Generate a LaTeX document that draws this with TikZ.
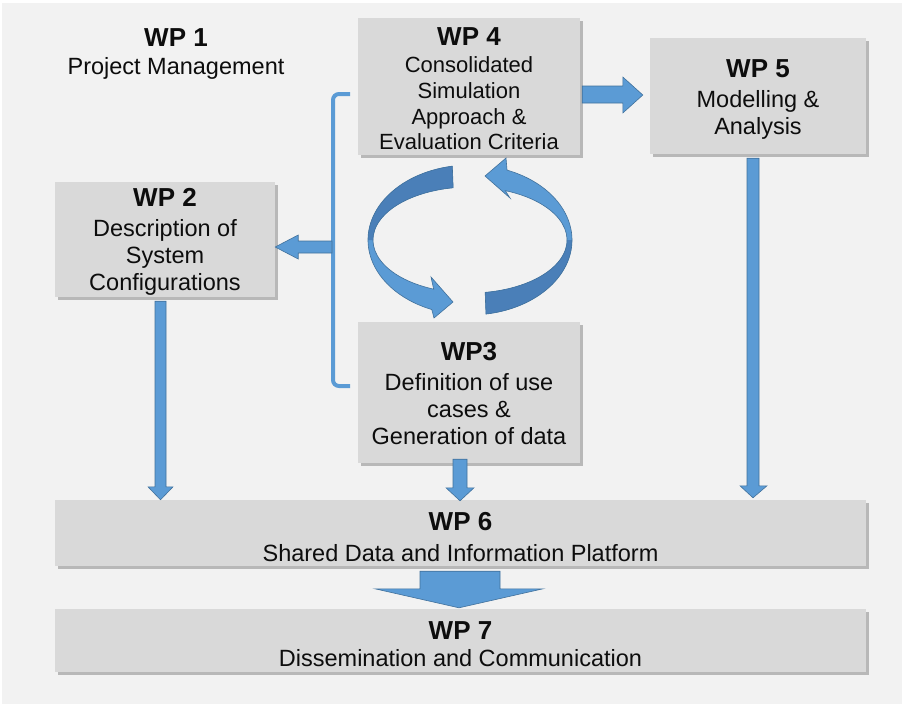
\documentclass[tikz,border=0pt]{standalone}
\usepackage{fontspec}
\setmainfont{Liberation Sans}
\usetikzlibrary{calc,shadows}
\definecolor{bggray}{HTML}{F2F2F2}
\definecolor{boxgray}{HTML}{D9D9D9}
\definecolor{arrowblue}{HTML}{5B9BD5}
\definecolor{arrowedge}{HTML}{41719C}
\definecolor{ribbondark}{HTML}{4A7FB8}
\definecolor{txt}{HTML}{0D0D0D}
\newcommand\wptitle[2]{\rule{0pt}{#1pt}{\fontsize{26}{30}\selectfont\bfseries #2}}
\begin{document}
\begin{tikzpicture}[x=1pt,y=1pt,
  wpbox/.style={fill=boxgray, inner sep=0pt, align=center, text=txt,
    font=\fontsize{23.5}{27}\selectfont,
    drop shadow={shadow xshift=3pt, shadow yshift=-3pt, opacity=0.35, fill=black!70}},
  blockarrow/.style={fill=arrowblue, draw=arrowedge, line width=0.6pt, line join=miter},
  bracketline/.style={draw=arrowblue, line width=4pt, rounded corners=6pt},
  ribbonlight/.style={fill=arrowblue},
  ribbonedge/.style={draw=arrowedge, line width=0.6pt}]
\useasboundingbox (0,0) rectangle (904,-707);
\fill[bggray] (2,-3) rectangle (902,-704);

% title WP1
\node[align=center, text=txt, font=\fontsize{23.5}{28}\selectfont] (wp1) at (176,-54)
  {\wptitle{0}{WP 1}\\Project Management};

% boxes
\node[wpbox, minimum width=222, minimum height=137, font=\fontsize{22}{25.7}\selectfont] (wp4) at (469,-86.5)
  {\wptitle{23}{WP 4}\\[1pt]Consolidated\\Simulation\\Approach \&\\Evaluation Criteria};
\node[wpbox, minimum width=216, minimum height=116] (wp5) at (758,-96)
  {\wptitle{25}{WP 5}\\[3pt]Modelling \&\\Analysis};
\node[wpbox, minimum width=220, minimum height=115] (wp2) at (165,-239.5)
  {\wptitle{23}{WP 2}\\[3pt]Description of\\System\\Configurations};
\node[wpbox, minimum width=222, minimum height=141] (wp3) at (469,-392.5)
  {\wptitle{21}{WP3}\\[3pt]Definition of use\\cases \&\\Generation of data};
\node[wpbox, minimum width=811, minimum height=66] (wp6) at (460.5,-533)
  {\wptitle{27}{WP 6}\\[4pt]Shared Data and Information Platform};
\node[wpbox, minimum width=811, minimum height=63] (wp7) at (460.5,-640.5)
  {\wptitle{25}{WP 7}\\Dissemination and Communication};

% WP4 -> WP5
\path[blockarrow] let \p1=(wp4.east), \p2=(wp5.west) in
  (\x1+2pt,-86pt) -- (\x2-27pt,-86pt) -- (\x2-27pt,-77pt) -- (\x2-7pt,-95pt)
  -- (\x2-27pt,-113pt) -- (\x2-27pt,-103pt) -- (\x1+2pt,-103pt) -- cycle;

% bracket from WP4 to WP3 and arrow to WP2
\coordinate (brtop) at (350,-94);
\coordinate (brbot) at (350,-386);
\coordinate (brmid) at (333,-247);
\draw[bracketline] (brtop) -- (333,-94) -- (333,-386) -- (brbot);
\path[blockarrow] let \p1=(brmid), \p2=(wp2.east) in
  (\x1-1pt,-241pt) -- (\x2+23pt,-241pt) -- (\x2+23pt,-235pt) -- (\x2,-247pt)
  -- (\x2+23pt,-259pt) -- (\x2+23pt,-253pt) -- (\x1-1pt,-253pt) -- cycle;

% WP2 -> WP6
\path[blockarrow] let \p1=(wp2.south), \p2=(wp6.north) in
  (155pt,\y1-4pt) -- (166pt,\y1-4pt) -- (166pt,\y2+13pt) -- (173pt,\y2+13pt)
  -- (160.5pt,\y2) -- (148pt,\y2+13pt) -- (155pt,\y2+13pt) -- cycle;
% WP3 -> WP6
\path[blockarrow] let \p1=(wp3.south), \p2=(wp6.north) in
  (453pt,\y1+4pt) -- (467pt,\y1+4pt) -- (467pt,\y2+12pt) -- (474pt,\y2+12pt)
  -- (460pt,\y2-1pt) -- (446pt,\y2+12pt) -- (453pt,\y2+12pt) -- cycle;
% WP5 -> WP6
\path[blockarrow] let \p1=(wp5.south), \p2=(wp6.north) in
  (747pt,\y1-4pt) -- (759pt,\y1-4pt) -- (759pt,\y2+14pt) -- (767pt,\y2+14pt)
  -- (753pt,\y2+2pt) -- (740pt,\y2+14pt) -- (747pt,\y2+14pt) -- cycle;
% WP6 -> WP7
\path[blockarrow] let \p1=(wp6.south), \p2=(wp7.north) in
  (420pt,\y1-5pt) -- (500pt,\y1-5pt) -- (500pt,\y2+20pt) -- (543pt,\y2+20pt)
  -- (459pt,\y2+1pt) -- (375pt,\y2+20pt) -- (420pt,\y2+20pt) -- cycle;

% cycle arrows between WP4 and WP3
\coordinate (cyc) at (470,-240);
% left ribbon
\fill[ribbonlight] ($(cyc)+(100:102 and 75)$) arc[start angle=100, end angle=248, x radius=102, y radius=75]
  -- (434,-318) -- (453,-302) -- (431,-277) -- ($(cyc)+(248:97 and 53)$)
  arc[start angle=248, end angle=100, x radius=97, y radius=53] -- cycle;
\fill[ribbondark] ($(cyc)+(100:102 and 75)$) arc[start angle=100, end angle=180, x radius=102, y radius=75]
  -- ($(cyc)+(180:97 and 53)$) arc[start angle=180, end angle=100, x radius=97, y radius=53] -- cycle;
\draw[ribbonedge] ($(cyc)+(100:102 and 75)$) arc[start angle=100, end angle=248, x radius=102, y radius=75]
  -- (434,-318) -- (453,-302) -- (431,-277) -- ($(cyc)+(248:97 and 53)$)
  arc[start angle=248, end angle=100, x radius=97, y radius=53] -- cycle;
% right ribbon
\fill[ribbonlight] ($(cyc)+(-81:102 and 75)$) arc[start angle=-81, end angle=68.7, x radius=102, y radius=75]
  -- (506,-158) -- (485,-176) -- (510,-198) -- ($(cyc)+(68.7:97 and 53)$)
  arc[start angle=68.7, end angle=-81, x radius=97, y radius=53] -- cycle;
\fill[ribbondark] ($(cyc)+(-81:102 and 75)$) arc[start angle=-81, end angle=0, x radius=102, y radius=75]
  -- ($(cyc)+(0:97 and 53)$) arc[start angle=0, end angle=-81, x radius=97, y radius=53] -- cycle;
\draw[ribbonedge] ($(cyc)+(-81:102 and 75)$) arc[start angle=-81, end angle=68.7, x radius=102, y radius=75]
  -- (506,-158) -- (485,-176) -- (510,-198) -- ($(cyc)+(68.7:97 and 53)$)
  arc[start angle=68.7, end angle=-81, x radius=97, y radius=53] -- cycle;
\end{tikzpicture}
\end{document}
